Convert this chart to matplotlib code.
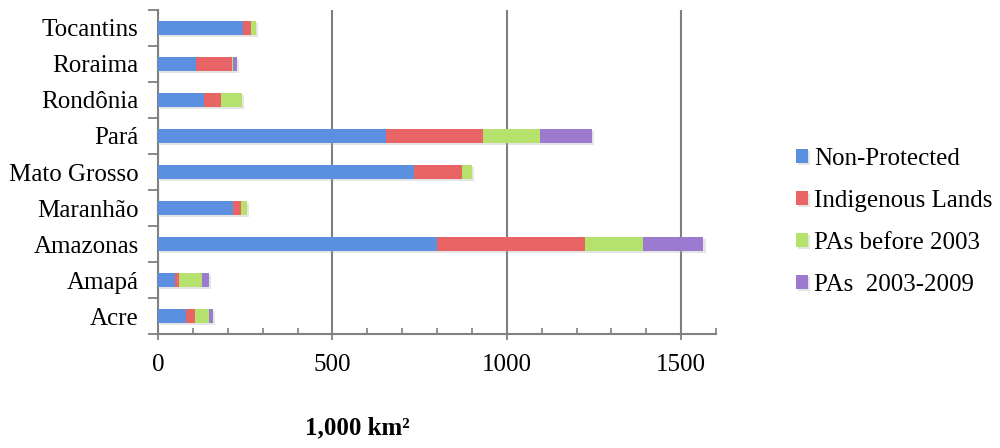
import numpy as np
import matplotlib.pyplot as plt
import matplotlib.patheffects as pe
from matplotlib.ticker import MultipleLocator, FixedLocator

plt.rcParams['font.family'] = ['Liberation Serif', 'DejaVu Serif']

# states, bottom to top
states = ['Acre', 'Amapá', 'Amazonas', 'Maranhão', 'Mato Grosso',
          'Pará', 'Rondônia', 'Roraima', 'Tocantins']

# areas in 1,000 km2
non_protected = [80, 49, 801, 216, 735, 653, 132, 110, 243]
indigenous = [25, 11, 424, 23, 138, 280, 49, 101, 25]
pas_before_2003 = [40, 65, 165, 15, 28, 162, 59, 3, 12]
pas_2003_2009 = [12, 22, 174, 0, 0, 149, 0, 12, 0]

series = [
    ('Non-Protected', non_protected, '#5b8fe0'),
    ('Indigenous Lands', indigenous, '#e96464'),
    ('PAs before 2003', pas_before_2003, '#b5e26c'),
    ('PAs  2003-2009', pas_2003_2009, '#9b7ad0'),
]

fig = plt.figure(figsize=(10, 4.48), dpi=100)
ax = fig.add_axes([0.158, 0.254, 0.558, 0.724])

y = np.arange(len(states))
left = np.zeros(len(states))
shadow = [pe.SimplePatchShadow(offset=(1.5, -1.5), shadow_rgbFace='#aaaaaa', alpha=0.3), pe.Normal()]
for name, vals, col in series:
    vals = np.array(vals, dtype=float)
    bars = ax.barh(y, vals, left=left, height=0.4, color=col, label=name, zorder=3)
    for b in bars:
        b.set_path_effects(shadow)
    left += vals

ax.set_xlim(0, 1600)
ax.set_ylim(-0.5, len(states) - 0.5)

# gridlines
ax.xaxis.set_major_locator(MultipleLocator(500))
ax.xaxis.set_minor_locator(MultipleLocator(100))
ax.grid(axis='x', which='major', color='#808080', linewidth=1.5, zorder=0)
ax.set_axisbelow(True)

ax.tick_params(axis='x', which='major', direction='inout', length=9, width=1.3,
               color='#808080', labelsize=18, pad=10)
ax.tick_params(axis='x', which='minor', direction='in', length=4, width=1.2, color='#808080')

ax.set_yticks(y)
ax.set_yticklabels(states)
ax.yaxis.set_minor_locator(FixedLocator(np.arange(-0.5, len(states), 1)))
ax.tick_params(axis='y', which='major', length=0, labelsize=18, pad=14)
ax.tick_params(axis='y', which='minor', direction='out', length=7, width=1.3, color='#808080')

for s in ['top', 'right']:
    ax.spines[s].set_visible(False)
for s in ['left', 'bottom']:
    ax.spines[s].set_color('#808080')
    ax.spines[s].set_linewidth(1.5)

fig.text(0.357, 0.045, '1,000 km²', ha='center', va='center',
         fontsize=18, fontweight='bold')

fig.legend(loc='center left', bbox_to_anchor=(0.773, 0.505), frameon=False,
           fontsize=18, handlelength=0.5, handleheight=0.5, handletextpad=0.25,
           labelspacing=0.8)

fig.savefig('out.png', dpi=100)
